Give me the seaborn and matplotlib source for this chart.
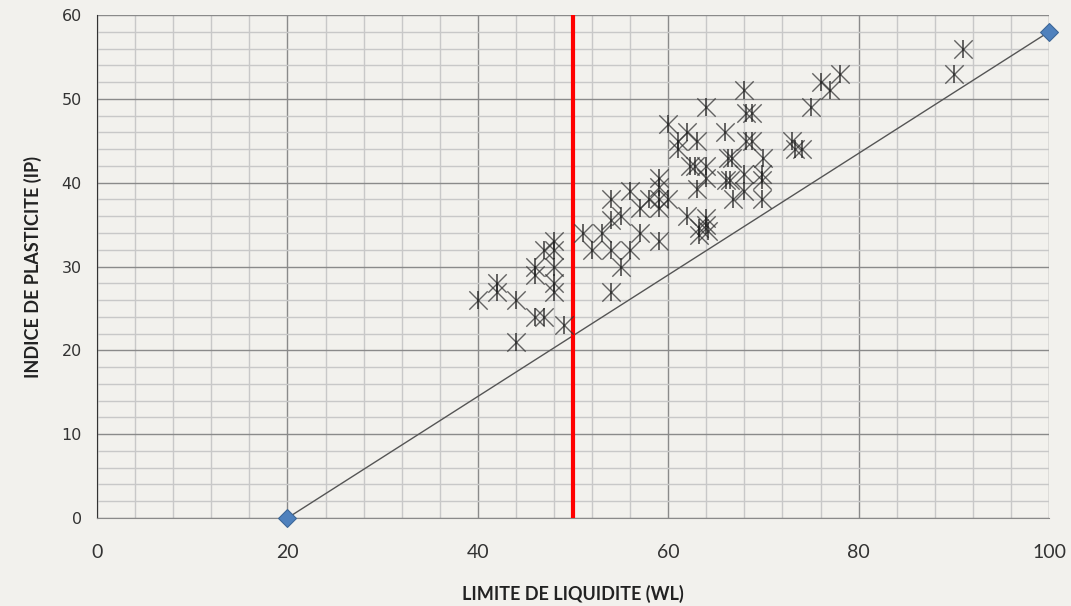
import numpy as np
import pandas as pd
import matplotlib
matplotlib.use("Agg")
import matplotlib.pyplot as plt
from matplotlib.ticker import MultipleLocator
import seaborn as sns

# sample points: liquid limit (WL) and plasticity index (IP)
wl = [40, 42, 42, 44, 44, 46, 46, 46, 47, 47, 48, 48, 48, 48, 48, 49,
      51, 52, 53, 54, 54, 54, 55, 55, 54, 56, 56, 57, 57, 58,
      59, 59, 59, 59, 60, 59, 60, 61, 61, 62, 63, 62.3, 62.8,
      64, 64, 64, 63, 62, 64, 64, 63.2, 63.2, 64.2,
      66, 66.3, 66.7, 66.1, 66.5, 66.8,
      68, 68.2, 68.8, 68.2, 68.8, 68, 68, 70, 69.8, 69.8, 69.8,
      73, 73.3, 74, 75, 76, 77, 78, 90, 91]
ip = [26, 28, 27, 26, 21, 30, 29, 24, 24, 32, 33, 32, 30, 28, 27, 23,
      34, 32, 34, 32, 35.5, 38, 36, 30, 27, 32, 39, 37, 34, 38,
      40.5, 39.5, 38, 37, 38, 33, 47, 45, 44, 46, 45, 42, 42,
      49, 42, 40.5, 39.3, 36, 35.8, 35, 34.6, 33.8, 34.2,
      46, 43, 43, 40.3, 40.3, 38,
      51, 48.3, 48.3, 45, 45, 41, 39, 43, 41, 40.3, 38,
      45, 44, 44, 49, 52, 51, 53, 53, 56]

# A-line end points
aline_wl = [20, 100]
aline_ip = [0, 58]

# WL = 50 separation
wl_limit = 50

df = pd.DataFrame({"WL": wl, "IP": ip})
aline = pd.DataFrame({"WL": aline_wl, "IP": aline_ip})

sns.set_style("white")
bg = "#f2f1ed"
fig = plt.figure(figsize=(10.71, 6.06), dpi=100, facecolor=bg)
ax = fig.add_axes([0.0906, 0.1452, 0.8889, 0.830])
ax.set_facecolor(bg)

ax.set_xlim(0, 100)
ax.set_ylim(0, 60)
ax.xaxis.set_major_locator(MultipleLocator(20))
ax.xaxis.set_minor_locator(MultipleLocator(4))
ax.yaxis.set_major_locator(MultipleLocator(10))
ax.yaxis.set_minor_locator(MultipleLocator(2))
ax.grid(which="minor", color="#c8c8c8", lw=1, zorder=0)
ax.grid(which="major", color="#8a8a8a", lw=1, zorder=0)
ax.set_axisbelow(True)

sns.lineplot(data=aline, x="WL", y="IP", ax=ax, color="#555555", lw=1,
             marker="D", markersize=9, markerfacecolor="#4f81bd",
             markeredgecolor="#3b6596", zorder=3, clip_on=False)

ax.axvline(wl_limit, color="#ff0000", lw=3, zorder=4)

sns.scatterplot(data=df, x="WL", y="IP", ax=ax, marker="x", s=175,
                color="#333333", alpha=0.75, linewidth=1, zorder=5)
sns.scatterplot(data=df, x="WL", y="IP", ax=ax, marker="|", s=175,
                color="#1e1e1e", alpha=0.8, linewidth=1.2, zorder=5)

for s in ["top", "right"]:
    ax.spines[s].set_visible(False)
ax.spines["left"].set_color("#333333")
ax.spines["bottom"].set_color("#8a8a8a")
ax.tick_params(axis="x", which="major", length=6, color="#8a8a8a",
               pad=13, labelsize=14, labelcolor="#333333")
ax.tick_params(axis="y", which="major", length=7, color="#333333",
               pad=4, labelsize=11.5, labelcolor="#333333")
ax.tick_params(which="minor", length=0)
for t in ax.get_xticklabels():
    t.set_family("Lato")

ax.set_xlabel("LIMITE DE LIQUIDITE (WL)", fontsize=13, fontweight="bold",
              family="Lato", color="#222222", labelpad=17)
ax.set_ylabel("INDICE DE PLASTICITE (IP)", fontsize=13, fontweight="bold",
              family="Lato", color="#222222", labelpad=14)

fig.savefig("out.png", dpi=100, facecolor=bg)
